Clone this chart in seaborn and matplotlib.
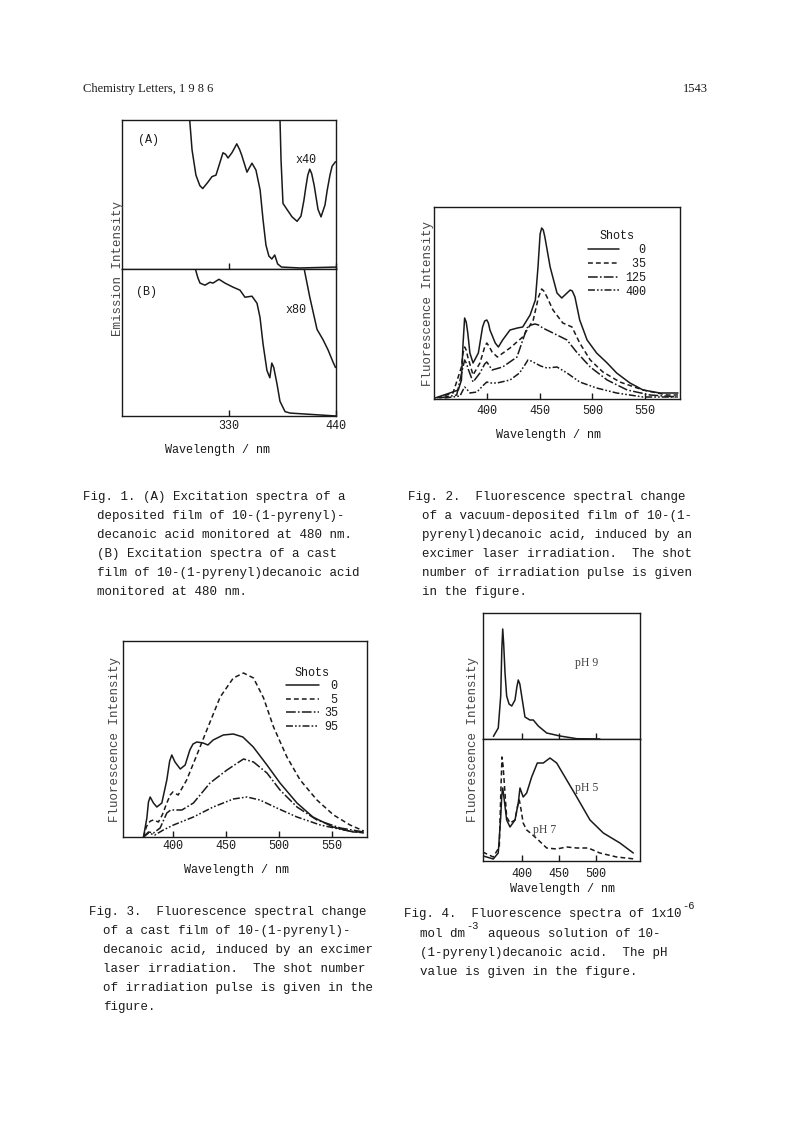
import numpy as np
import pandas as pd
import matplotlib
matplotlib.use("Agg")
import matplotlib.pyplot as plt
import seaborn as sns

# ---------------- data (read from the scanned page) ----------------
# Fig. 1 (A) excitation, deposited film
f1a_main_x = [289, 292, 296, 300, 303, 308, 312.5, 316.6, 320, 323.8, 326.5, 329, 333, 338, 341, 343, 348.5, 351, 353.6, 357.7, 362, 365, 368, 371, 374, 377, 380, 384, 403, 440]
f1a_main_y = [105, 80, 63, 56, 54, 58, 62, 63, 70, 78, 77, 74.5, 78, 84, 80, 76.5, 65, 68, 71, 66.4, 53, 33, 16, 8.7, 6.7, 9.4, 3.4, 1.3, 0.7, 1.3]
f1a_x40_x = [382.4, 383.5, 385.5, 389.6, 394.8, 400, 404, 407, 409, 411, 413, 415, 417.6, 421.5, 424.6, 428.7, 431, 433.8, 436, 439.5]
f1a_x40_y = [101, 73, 44, 40, 35, 32, 35.5, 46, 55, 63, 67, 64, 56, 40, 35, 43, 53, 63, 69, 72]
# Fig. 1 (B) excitation, cast film
f1b_main_x = [295, 298, 300.2, 305.3, 310.5, 313.5, 319.7, 325.9, 334, 341.3, 346.4, 353.6, 358.8, 361.9, 365, 369, 372, 374, 376, 379.3, 382.4, 387.6, 392.7, 440]
f1b_main_y = [101, 94, 90.4, 89, 91, 90.4, 93, 90.4, 87.7, 85.6, 80.8, 81.5, 76.7, 67, 49, 31, 26, 36, 33, 22, 10, 3, 2, 0]
f1b_x80_x = [407, 413, 420.5, 426.6, 431.8, 437, 439.5]
f1b_x80_y = [101, 81, 58.9, 52, 45, 36.6, 33]
f1_ticks = [330, 440]

# Fig. 2 vacuum-deposited film, shots 0 / 35 / 125 / 400
f2_shots = ["0", "35", "125", "400"]
f2_x0 = [351, 365, 373, 376, 377.5, 379, 380.5, 382, 384, 387, 392, 396, 398, 400, 401.5, 403, 408, 411, 415, 422, 429, 434, 441, 446, 448.5, 450.5, 452, 453.5, 455, 460, 466.5, 471, 476, 479, 481, 483.5, 488, 495, 504, 514, 523, 535.6, 548, 564, 581]
f2_y0 = [1, 6, 9, 19, 55, 81, 77, 66, 46, 36, 46, 72, 78, 79, 76, 69, 56, 52, 59, 69, 71, 72, 84, 99, 132, 165, 171, 169, 162, 132, 106, 101, 106, 109, 108, 102, 79, 59, 46, 36, 26, 16, 9, 6, 6]
f2_x35 = [353, 368, 376, 377.5, 379, 380.5, 382, 387, 393.5, 398, 400, 402, 405, 410, 422, 434, 444, 449, 452, 454, 457, 462.7, 472, 480.7, 488, 498, 510, 526, 548, 570.6, 581]
f2_y35 = [1, 6, 32, 46, 52, 49, 42, 24, 36, 52, 56, 53, 47, 42, 51, 62, 79, 102, 110, 108, 102, 89, 76, 72, 56, 39, 27, 17, 9, 4, 4]
f2_x125 = [355, 371.5, 377, 379, 381, 382, 387, 393.5, 398, 400, 402, 405, 415, 428.6, 438, 442, 445.6, 449, 453, 462.7, 476, 485, 498, 514, 533, 554.6, 581]
f2_y125 = [1, 4, 30, 39, 35, 31, 17, 26, 35, 37, 34, 29, 32, 42, 71, 74, 75, 74, 71, 66, 59, 47, 32, 19, 9, 4, 2]
f2_x400 = [360, 374.6, 377, 379, 381, 384, 390.7, 397, 400, 403, 409.7, 422, 431, 436, 439, 442, 445.6, 451, 457, 466.5, 476, 488, 504, 523, 548, 581]
f2_y400 = [1, 3, 8, 12, 10, 6, 7, 14, 17, 16, 16, 19, 26, 34, 39, 38, 36, 33, 31, 32, 26, 17, 11, 6, 2, 2]
f2_ticks = [400, 450, 500, 550]

# Fig. 3 cast film, shots 0 / 5 / 35 / 95
f3_shots = ["0", "5", "35", "95"]
f3_x0 = [372.3, 375.5, 377, 378.6, 381.7, 384.9, 389.6, 394.3, 397, 399, 402, 407, 411.6, 416, 419, 422.6, 428.6, 433, 438, 447.5, 457, 466, 475.8, 488.7, 501, 517, 532, 551, 570, 579]
f3_y0 = [0, 19, 35, 40, 34, 30, 34, 57, 76, 82, 75, 68, 72, 87, 93, 95, 94, 92, 97, 102, 103, 100, 90, 72, 54, 34, 20, 10, 5, 5]
f3_x5 = [372.3, 375, 377, 379, 381.7, 386.4, 390, 394.3, 397.5, 400, 405, 413, 422.6, 432, 444.6, 457, 466.6, 476, 485.5, 494.9, 507.5, 520, 535.8, 551.5, 567, 580]
f3_y5 = [0, 10, 14, 16, 17, 15, 22, 34, 42, 45, 42, 57, 82, 107, 140, 159, 164, 159, 139, 110, 80, 57, 37, 22, 12, 6]
f3_x35 = [372.3, 377, 381.7, 388, 394.3, 398, 402, 408.5, 419.4, 435, 451, 466.6, 476, 488.7, 501, 517, 535.8, 558, 580]
f3_y35 = [0, 5, 4, 9, 24, 27, 27, 27, 34, 54, 67, 78, 75, 64, 47, 30, 17, 9, 5]
f3_x95 = [372.3, 377, 383, 391, 400.6, 419.4, 438, 457, 469.8, 482, 498, 517, 539, 561, 580]
f3_y95 = [0, 4, 2, 7, 12, 20, 30, 38, 40, 37, 29, 20, 12, 7, 4]
f3_ticks = [400, 450, 500, 550]

# Fig. 4 aqueous solution, pH 9 (top) and pH 5 / pH 7 (bottom)
f4_ph9_x = [362, 368.5, 371.8, 373.3, 374.5, 375.8, 377.6, 379.8, 383, 386.6, 391, 393.5, 395.4, 397.5, 400, 404.4, 411, 415.6, 422.3, 433.6, 451.5, 474, 505]
f4_ph9_y = [2.6, 11, 43, 90, 110, 95, 66, 43, 35, 33, 39, 52, 59, 55, 43, 22, 19, 19, 13, 6, 3, 0.3, 0]
f4_ph5_x = [348.4, 361.8, 368.5, 371.8, 373.3, 374.5, 376.6, 379.8, 384.3, 391, 395.4, 397.7, 402, 406.7, 413.4, 421, 429, 438, 447, 460.5, 474, 491.8, 509.7, 532, 550]
f4_ph5_y = [5, 2, 8, 44, 66, 73, 61, 41, 34, 41, 58, 73, 64, 68, 84, 98, 98, 103, 98, 81, 64, 41, 28, 18, 8]
f4_ph7_x = [347.6, 361.8, 369.9, 372, 373.5, 375, 376.6, 379.8, 384.3, 391, 394.5, 396.8, 399, 402, 406.7, 413.4, 422.3, 433.6, 447, 460.5, 474, 489.5, 505, 527.7, 552.3]
f4_ph7_y = [9, 4, 14, 70, 104, 95, 78, 44, 38, 41, 55, 61, 52, 38, 31, 27, 21, 13, 12, 14, 13, 13, 8, 4, 2]
f4_ticks = [400, 450, 500]

# ---------------- styling ----------------
sns.set_theme(style="white")
plt.rcParams['font.family'] = ['Liberation Mono', 'DejaVu Sans Mono']
plt.rcParams['lines.scale_dashes'] = False
INK = '#1a1a1a'
GREY = '#444444'
LW = 1.1
DASH = (0, (3.5, 2.2))
LDASHDOT = (0, (7, 1.6, 1.2, 1.6))
DASHDOTDOT = (0, (5, 1.5, 1.2, 1.5, 1.2, 1.5))
FS = 8.5

W, H = 793, 1123
fig = plt.figure(figsize=(W / 100, H / 100), dpi=100)
fig.patch.set_facecolor('white')


def rect(l, t, r, b):
    return [l / W, 1 - b / H, (r - l) / W, (b - t) / H]


def ftext(x, y, s, **kw):
    kw.setdefault('color', INK)
    kw.setdefault('va', 'center')
    fig.text(x / W, 1 - y / H, s, **kw)


def style_ax(ax, xlim, ylim, ticks, labels=True, pad=3):
    ax.set_xlim(*xlim)
    ax.set_ylim(*ylim)
    ax.set_xticks(ticks)
    ax.set_yticks([])
    ax.set_xlabel('')
    ax.set_ylabel('')
    for sp in ax.spines.values():
        sp.set_visible(True)
        sp.set_color(INK)
        sp.set_linewidth(1.0)
    ax.tick_params(axis='x', bottom=True, top=False, direction='in', length=4,
                   width=1.0, color=INK, labelsize=FS, labelcolor=INK, pad=pad,
                   labelbottom=labels)
    ax.set_facecolor('white')


def curve(ax, x, y, ls='-'):
    sns.lineplot(x=x, y=y, ax=ax, color=INK, linewidth=LW, linestyle=ls,
                 estimator=None, sort=False)
    return ax.lines[-1]


# ---------------- header ----------------
ftext(83, 89, "Chemistry Letters, 1 9 8 6", family='Liberation Serif', fontsize=9)
ftext(708, 89, "1543", ha='right', family='Liberation Serif', fontsize=9)

# ---------------- Fig. 1 ----------------
a1 = fig.add_axes(rect(122, 120, 336, 269))
curve(a1, f1a_main_x, f1a_main_y)
curve(a1, f1a_x40_x, f1a_x40_y)
style_ax(a1, (220, 440), (0, 100), f1_ticks, labels=False)
b1 = fig.add_axes(rect(122, 269, 336, 416))
curve(b1, f1b_main_x, f1b_main_y)
curve(b1, f1b_x80_x, f1b_x80_y)
style_ax(b1, (220, 440), (0, 100), f1_ticks, labels=True, pad=3)
ftext(148, 140, "(A)", ha='center', fontsize=FS)
ftext(306, 160, "x40", ha='center', fontsize=FS)
ftext(147, 292, "(B)", ha='center', fontsize=FS)
ftext(296, 310, "x80", ha='center', fontsize=FS)
ftext(218, 450, "Wavelength / nm", ha='center', fontsize=FS)
ftext(118, 268, "Emission Intensity", ha='center', rotation=90, fontsize=9, color=GREY)

# ---------------- Fig. 2 ----------------
a2 = fig.add_axes(rect(434, 207, 680, 399))
h2 = [curve(a2, f2_x0, f2_y0, '-'),
      curve(a2, f2_x35, f2_y35, DASH),
      curve(a2, f2_x125, f2_y125, LDASHDOT),
      curve(a2, f2_x400, f2_y400, DASHDOTDOT)]
style_ax(a2, (350, 583), (0, 192), f2_ticks, pad=4)
leg2 = a2.legend(h2, [s.rjust(3) for s in f2_shots], title='Shots', loc='upper right',
                 bbox_to_anchor=(646 / W, 1 - 230 / H), bbox_transform=fig.transFigure,
                 frameon=False, fontsize=FS, title_fontsize=FS, handlelength=2.6,
                 handletextpad=0.5, labelspacing=0.16, borderpad=0, borderaxespad=0)
for t in leg2.get_texts():
    t.set_color(INK)
leg2.get_title().set_color(INK)
ftext(548, 435, "Wavelength / nm", ha='center', fontsize=FS)
ftext(428, 303, "Fluorescence Intensity", ha='center', rotation=90, fontsize=9, color=GREY)

# ---------------- Fig. 3 ----------------
a3 = fig.add_axes(rect(123, 641, 367, 837))
h3 = [curve(a3, f3_x0, f3_y0, '-'),
      curve(a3, f3_x5, f3_y5, DASH),
      curve(a3, f3_x35, f3_y35, LDASHDOT),
      curve(a3, f3_x95, f3_y95, DASHDOTDOT)]
style_ax(a3, (353, 583), (0, 196), f3_ticks, pad=2)
leg3 = a3.legend(h3, [s.rjust(2) for s in f3_shots], title='Shots', loc='upper right',
                 bbox_to_anchor=(338 / W, 1 - 667 / H), bbox_transform=fig.transFigure,
                 frameon=False, fontsize=FS, title_fontsize=FS, handlelength=2.8,
                 handletextpad=0.4, labelspacing=0.12, borderpad=0, borderaxespad=0)
for t in leg3.get_texts():
    t.set_color(INK)
leg3.get_title().set_color(INK)
ftext(237, 870, "Wavelength / nm", ha='center', fontsize=FS)
ftext(115, 740, "Fluorescence Intensity", ha='center', rotation=90, fontsize=9, color=GREY)

# ---------------- Fig. 4 ----------------
a4 = fig.add_axes(rect(483, 613, 640, 739))
curve(a4, f4_ph9_x, f4_ph9_y, '-')
style_ax(a4, (348, 559), (0, 126), f4_ticks, labels=False)
b4 = fig.add_axes(rect(483, 739, 640, 861))
curve(b4, f4_ph5_x, f4_ph5_y, '-')
curve(b4, f4_ph7_x, f4_ph7_y, (0, (3.5, 2.2)))
style_ax(b4, (348, 559), (0, 122), f4_ticks, labels=True, pad=5)
ftext(587, 663, "pH 9", ha='center', family='Liberation Serif', fontsize=8.5, color=GREY)
ftext(587, 788, "pH 5", ha='center', family='Liberation Serif', fontsize=8.5, color=GREY)
ftext(545, 830, "pH 7", ha='center', family='Liberation Serif', fontsize=8.5, color=GREY)
ftext(563, 889, "Wavelength / nm", ha='center', fontsize=FS)
ftext(473, 740, "Fluorescence Intensity", ha='center', rotation=90, fontsize=9, color=GREY)

# ---------------- captions ----------------
CFS = 9
cap1 = ["Fig. 1. (A) Excitation spectra of a",
        "deposited film of 10-(1-pyrenyl)-",
        "decanoic acid monitored at 480 nm.",
        "(B) Excitation spectra of a cast",
        "film of 10-(1-pyrenyl)decanoic acid",
        "monitored at 480 nm."]
cap2 = ["Fig. 2.  Fluorescence spectral change",
        "of a vacuum-deposited film of 10-(1-",
        "pyrenyl)decanoic acid, induced by an",
        "excimer laser irradiation.  The shot",
        "number of irradiation pulse is given",
        "in the figure."]
cap3 = ["Fig. 3.  Fluorescence spectral change",
        "of a cast film of 10-(1-pyrenyl)-",
        "decanoic acid, induced by an excimer",
        "laser irradiation.  The shot number",
        "of irradiation pulse is given in the",
        "figure."]
for i, s in enumerate(cap1):
    ftext(83 if i == 0 else 97, 497 + 19 * i, s, fontsize=CFS)
for i, s in enumerate(cap2):
    ftext(408 if i == 0 else 422, 497 + 19 * i, s, fontsize=CFS)
for i, s in enumerate(cap3):
    ftext(89 if i == 0 else 103, 912 + 19 * i, s, fontsize=CFS)

ftext(404, 914, "Fig. 4.  Fluorescence spectra of 1x10", fontsize=CFS)
ftext(682, 906, "-6", fontsize=7.5)
ftext(420, 934, "mol dm", fontsize=CFS)
ftext(466, 926, "-3", fontsize=7.5)
ftext(488, 934, "aqueous solution of 10-", fontsize=CFS)
ftext(420, 953, "(1-pyrenyl)decanoic acid.  The pH", fontsize=CFS)
ftext(420, 972, "value is given in the figure.", fontsize=CFS)

fig.savefig("out.png", dpi=100, facecolor='white')
